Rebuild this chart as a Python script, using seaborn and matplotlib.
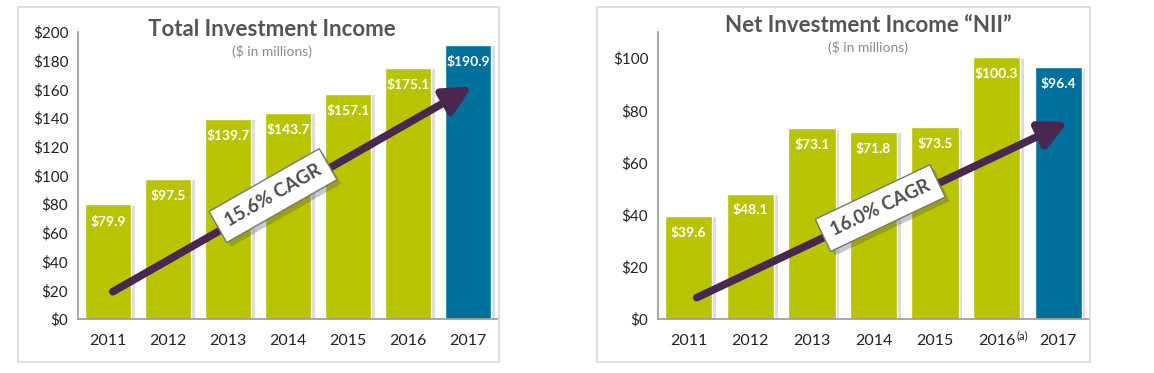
import numpy as np
import pandas as pd
import seaborn as sns
import matplotlib.pyplot as plt
import matplotlib.patheffects as pe
from matplotlib.patches import Rectangle

# ---- data ----
years = ["2011", "2012", "2013", "2014", "2015", "2016", "2017"]
total_income = [79.9, 97.5, 139.7, 143.7, 157.1, 175.1, 190.9]
net_income = [39.6, 48.1, 73.1, 71.8, 73.5, 100.3, 96.4]
total_labels = ["$79.9", "$97.5", "$139.7", "$143.7", "$157.1", "$175.1", "$190.9"]
net_labels = ["$39.6", "$48.1", "$73.1", "$71.8", "$73.5", "$100.3", "$96.4"]
total_cagr = "15.6% CAGR"
net_cagr = "16.0% CAGR"

GREEN = "#b8c400"
BLUE = "#00709c"
PURPLE = "#4a2751"
TEXT = "#222222"
TITLE = "#555555"

sns.set_style("white")
plt.rcParams['font.family'] = ['Lato', 'DejaVu Sans']

fig = plt.figure(figsize=(11.54, 3.73), dpi=100)

# panel frames
for x0, w in [(18, 481), (597, 493)]:
    fig.patches.append(Rectangle((x0 / 1154, 11 / 373), w / 1154, 355 / 373,
                                 transform=fig.transFigure, fill=False,
                                 edgecolor="#d9d9d9", lw=1.2))


def panel(rect, values, labels, ymax, yticks, title, title_xy, sub_y,
          label_off, arrow, cagr, cagr_pos, cagr_rot):
    ax = fig.add_axes(rect)
    df = pd.DataFrame({"year": years, "value": values})
    pal = [GREEN] * 6 + [BLUE]
    sns.barplot(data=df, x="year", y="value", hue="year", palette=pal,
                legend=False, width=0.77, saturation=1, ax=ax, zorder=2)
    for p in ax.patches:
        p.set_path_effects([pe.SimplePatchShadow(offset=(2.5, -1), shadow_rgbFace="#999999", alpha=0.35),
                            pe.Normal()])
    for i, (v, lab) in enumerate(zip(values, labels)):
        ax.text(i, v - label_off, lab, ha="center", va="center", color="white",
                fontsize=10, fontweight="bold", zorder=5)

    ax.set_ylim(0, ymax)
    ax.set_xlim(-0.5, 6.5)
    ax.set_yticks(yticks)
    ax.set_yticklabels([f"\\${t}" for t in yticks], fontsize=11, color=TEXT)
    ax.set_xticks(range(7))
    ax.set_xticklabels(years, fontsize=11.5, color=TEXT)
    ax.set_xticks(np.arange(-0.5, 7, 1), minor=True)
    ax.tick_params(axis="x", which="major", length=0, pad=11)
    ax.tick_params(axis="x", which="minor", length=5, color="#888888", width=1)
    ax.tick_params(axis="y", length=4, color="#888888", width=1, pad=3)
    ax.set_xlabel("")
    ax.set_ylabel("")
    for s in ["top", "right"]:
        ax.spines[s].set_visible(False)
    for s in ["left", "bottom"]:
        ax.spines[s].set_color("#999999")
        ax.spines[s].set_linewidth(1.2)

    # CAGR arrow
    (x0, y0), (x1, y1) = arrow
    ax.annotate("", xy=(x1, y1), xytext=(x0, y0), zorder=6,
                arrowprops=dict(arrowstyle="-|>,head_length=1.1,head_width=0.55",
                                mutation_scale=15,
                                color=PURPLE, lw=5.5, shrinkA=0, shrinkB=0))
    t = ax.text(cagr_pos[0], cagr_pos[1], cagr, rotation=cagr_rot, rotation_mode="anchor",
                ha="center", va="center", fontsize=13.5, fontweight="bold", color="#4d4d4d",
                zorder=7,
                bbox=dict(boxstyle="square,pad=0.5", fc="white", ec="#777777", lw=1))
    fig.canvas.draw()
    t.get_bbox_patch().set_path_effects([pe.SimplePatchShadow(offset=(3, -3), alpha=0.3),
                                         pe.Normal()])

    fig.text(title_xy[0], title_xy[1], title, ha="center", va="center", fontsize=16,
             fontweight="bold", color=TITLE)
    fig.text(title_xy[0], sub_y, "(\\$ in millions)", ha="center", va="center",
             fontsize=10, color="#8a8a8a")
    return ax


bottom = 54 / 373
height = 287 / 373
ax1 = panel([78 / 1154, bottom, 420 / 1154, height], total_income, total_labels,
            200, list(range(0, 201, 20)), "Total Investment Income",
            (272 / 1154, 1 - 30 / 373), 1 - 52 / 373, 12,
            [(0.08, 19), (6.07, 162)], total_cagr, (2.75, 86), 29.7)
ax2 = panel([658 / 1154, bottom, 431 / 1154, height], net_income, net_labels,
            110, list(range(0, 101, 20)), "Net Investment Income \u201cNII\u201d",
            (868 / 1154, 1 - 26 / 373), 1 - 48 / 373, 6.5,
            [(0.13, 8.2), (6.16, 75.5)], net_cagr, (3.11, 42.5), 25.4)
ax2.text(5.32, -0.06, "(a)", transform=ax2.get_xaxis_transform(), fontsize=8,
         color=TEXT, ha="left", va="center")

fig.savefig("out.png", dpi=100, facecolor="white")
